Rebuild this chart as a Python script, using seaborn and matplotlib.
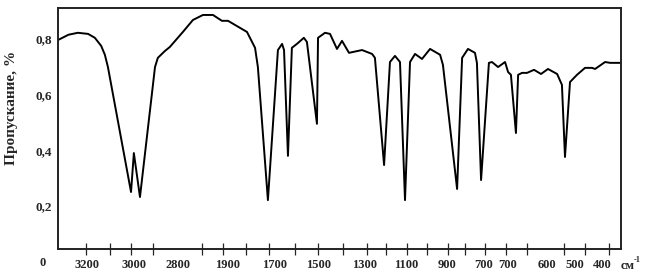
import pandas as pd
import seaborn as sns
import matplotlib.pyplot as plt

# Position along the (non-linear) wavenumber scale, in tick-index units
position = [-1.28, -0.80, -0.37, 0.10, 0.41, 0.70, 0.87, 1.01, 2.07, 2.20, 2.48,
            3.17, 3.30, 3.63, 3.85, 4.45, 4.91, 5.37, 5.83, 6.24, 6.52, 7.39,
            7.76, 7.89, 8.35, 8.81, 9.00, 9.09, 9.27, 9.45, 9.68, 10.00, 10.14,
            10.60, 10.65, 10.97, 11.20, 11.52, 11.75, 12.07, 12.67, 13.13, 13.26,
            13.68, 13.95, 14.18, 14.41, 14.64, 14.87, 15.10, 15.42, 15.79, 16.25,
            16.38, 17.03, 17.26, 17.53, 17.85, 17.94, 18.13, 18.49, 18.63, 18.91,
            19.23, 19.37, 19.50, 19.73, 19.83, 20.01, 20.24, 20.56, 20.88, 21.20,
            21.62, 21.84, 21.98, 22.21, 22.53, 22.90, 23.22, 23.36, 23.82, 24.05,
            24.55]
transmittance = [0.796, 0.815, 0.822, 0.818, 0.804, 0.775, 0.743, 0.699, 0.250, 0.390, 0.232,
                 0.699, 0.732, 0.757, 0.771, 0.825, 0.868, 0.886, 0.886, 0.865, 0.865, 0.825,
                 0.768, 0.699, 0.221, 0.760, 0.782, 0.760, 0.380, 0.768, 0.782, 0.804, 0.789,
                 0.495, 0.804, 0.822, 0.818, 0.764, 0.793, 0.750, 0.760, 0.746, 0.732,
                 0.347, 0.717, 0.739, 0.717, 0.221, 0.717, 0.746, 0.728, 0.764, 0.743,
                 0.707, 0.261, 0.732, 0.764, 0.750, 0.714, 0.293, 0.714, 0.717, 0.699,
                 0.717, 0.681, 0.671, 0.462, 0.671, 0.678, 0.678, 0.689, 0.674, 0.692,
                 0.674, 0.635, 0.376, 0.645, 0.671, 0.696, 0.696, 0.692, 0.717, 0.714,
                 0.714]

# tick marks on the bottom axis
tick_pos = [0, 1.10, 2.07, 3.07, 4.22, 5.32, 6.29, 7.34, 8.40, 9.59, 10.65, 11.79,
            12.90, 13.77, 14.73, 15.65, 16.61, 17.39, 18.31, 19.28, 20.24, 21.16,
            21.94, 22.90, 24.0]
# labels (as printed, they do not sit exactly on the marks)
label_pos = [0.05, 2.20, 4.22, 6.52, 8.67, 10.69, 12.80, 14.69, 16.57, 18.27,
             19.37, 21.16, 22.44, 23.68]
label_text = ['3200', '3000', '2800', '1900', '1700', '1500', '1300', '1100',
              '900', '700', '700', '600', '500', '400']
y_ticks = [0.2, 0.4, 0.6, 0.8]
y_text = ['0,2', '0,4', '0,6', '0,8']

df = pd.DataFrame({'pos': position, 'T': transmittance})

sns.set_style('white')
plt.rcParams['font.family'] = ['Liberation Serif', 'DejaVu Serif']
plt.rcParams['font.weight'] = 'bold'

fig = plt.figure(figsize=(6.46, 2.76), dpi=100)
ax = fig.add_axes([0.0898, 0.0978, 0.8715, 0.8732])

sns.lineplot(data=df, x='pos', y='T', color='black', linewidth=1.4, ax=ax)

ax.set_xlim(-1.28, 24.55)
ax.set_ylim(0.0454, 0.911)

# labels on major ticks (no marks), coloured marks on minor ticks
ax.set_xticks(label_pos)
ax.set_xticklabels(label_text, fontsize=9, fontweight='bold')
ax.tick_params(axis='x', which='major', length=0, pad=7)
ax.set_xticks(tick_pos, minor=True)
ax.tick_params(axis='x', which='minor', bottom=True, top=False,
               direction='inout', length=8.5, width=0.9)
for i, t in enumerate(ax.xaxis.get_minor_ticks()):
    c = '#9b4a70' if i % 2 == 0 else '#3d6b78'
    t.tick1line.set_color(c)

ax.set_yticks(y_ticks)
ax.set_yticklabels(y_text, fontsize=9.5, fontweight='bold')
ax.tick_params(axis='y', length=0, pad=4.5)

ax.set_xlabel('')
ax.set_ylabel('Пропускание, %', fontsize=11, fontweight='bold')
ax.yaxis.set_label_coords(-0.071, 0.585)

for s in ax.spines.values():
    s.set_color('#222222')
    s.set_linewidth(1.4)

ax.text(-0.027, -0.058, '0', transform=ax.transAxes, ha='center', va='center',
        fontsize=9, fontweight='bold')
ax.text(1.000, -0.0705, 'см', transform=ax.transAxes, ha='left', va='center',
        fontsize=9, fontweight='bold')
ax.text(1.023, -0.045, '-1', transform=ax.transAxes, ha='left', va='center',
        fontsize=6, fontweight='bold')

fig.savefig('out.png', dpi=100)
